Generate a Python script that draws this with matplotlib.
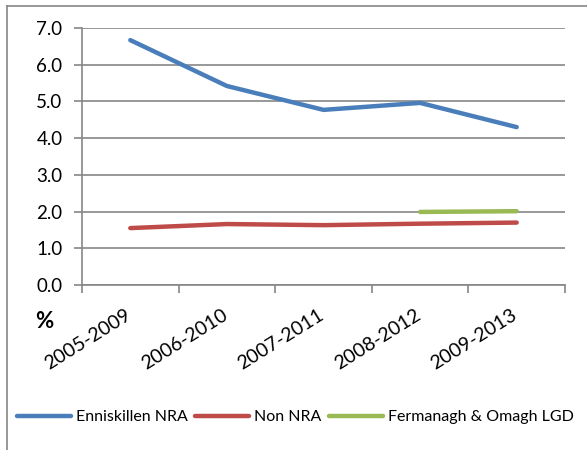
import matplotlib.pyplot as plt
from matplotlib.lines import Line2D

plt.rcParams['font.family'] = ['Lato', 'DejaVu Sans']

periods = ['2005-2009', '2006-2010', '2007-2011', '2008-2012', '2009-2013']
enniskillen = [6.67, 5.42, 4.77, 4.96, 4.30]
non_nra = [1.55, 1.66, 1.63, 1.67, 1.70]
fermanagh_x = ['2008-2012', '2009-2013']
fermanagh = [1.99, 2.01]

grey = '#868686'

fig = plt.figure(figsize=(5.87, 4.5), dpi=100)
ax = fig.add_axes([82/587, 1 - 285/450, (565-82)/587, (285-28)/450])

x = list(range(len(periods)))
ax.plot(x, enniskillen, color='#4A7EBB', lw=3.2, solid_capstyle='round', label='Enniskillen NRA')
ax.plot(x, non_nra, color='#BE4B48', lw=3.2, solid_capstyle='round', label='Non NRA')
ax.plot([periods.index(p) for p in fermanagh_x], fermanagh, color='#98B954', lw=3.2,
        solid_capstyle='round', label='Fermanagh & Omagh LGD')

ax.set_xlim(-0.5, len(periods) - 0.5)
ax.set_ylim(0, 7)
ax.set_yticks([i for i in range(8)])
ax.set_yticklabels([f'{i:.1f}' for i in range(8)], fontsize=13.5)
ax.yaxis.grid(True, color=grey, lw=1.2)
ax.set_axisbelow(True)

ax.set_xticks([i - 0.5 for i in range(len(periods) + 1)])
ax.set_xticklabels([])
ax.tick_params(axis='x', length=6, width=1.2, color=grey, direction='out')
ax.tick_params(axis='y', length=6, width=1.2, color=grey, direction='out', pad=8)
for i, p in enumerate(periods):
    ax.annotate(p, xy=(i, 0), xycoords='data', xytext=(-4, -15), textcoords='offset points',
                rotation=32, rotation_mode='anchor', ha='right', va='top', fontsize=14)

for s in ['top', 'right']:
    ax.spines[s].set_visible(False)
ax.spines['left'].set_color(grey)
ax.spines['bottom'].set_color(grey)
ax.spines['left'].set_linewidth(1.2)
ax.spines['bottom'].set_linewidth(1.2)

fig.text(35/587, 1 - 321/450, '%', fontsize=16, fontweight='bold', va='center', ha='left')

# chart frame (partly outside the image)
fig.add_artist(Line2D([7/587, 7/587], [0, 1 - 6/450], color=grey, lw=1.2))
fig.add_artist(Line2D([7/587, 1], [1 - 6/450, 1 - 6/450], color=grey, lw=1.2))

handles, labels = ax.get_legend_handles_labels()
fig.legend(handles, labels, loc='center left', bbox_to_anchor=(17/587, 1 - 417/450), ncol=3,
           frameon=False, fontsize=11.5, handlelength=3.4, handletextpad=0.3,
           columnspacing=0.45, borderaxespad=0, borderpad=0)

fig.savefig('out.png', dpi=100)
